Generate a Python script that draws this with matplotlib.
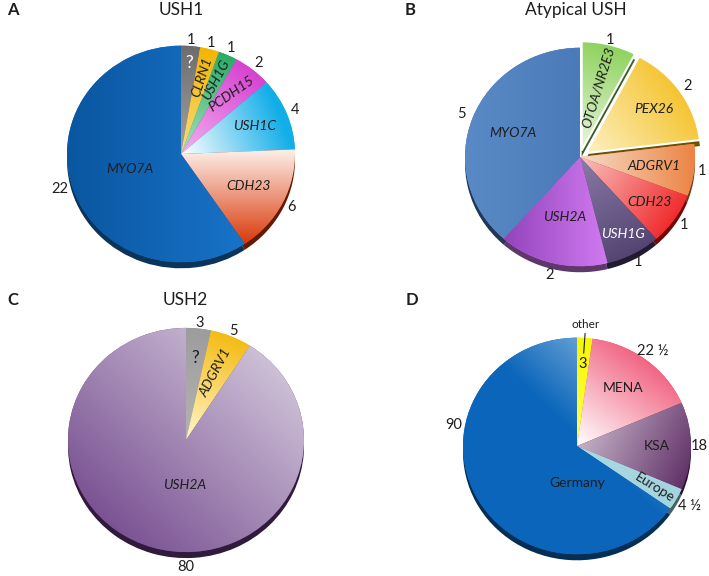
import numpy as np
import matplotlib.pyplot as plt
from matplotlib.colors import to_rgb
from matplotlib.patches import Wedge

plt.rcParams['font.family'] = ['Lato', 'DejaVu Sans']

W, H = 709, 576
SY = 0.95  # slight vertical squash, like the tilted 3D pies

# A - USH1
a_names = ['?', 'CLRN1', 'USH1G', 'PCDH15', 'USH1C', 'CDH23', 'MYO7A']
a_values = [1, 1, 1, 2, 4, 6, 22]
a_labels = ['1', '1', '1', '2', '4', '6', '22']

# B - atypical USH
b_names = ['OTOA/NR2E3', 'PEX26', 'ADGRV1', 'CDH23', 'USH1G', 'USH2A', 'MYO7A']
b_values = [1, 2, 1, 1, 1, 2, 5]
b_labels = ['1', '2', '1', '1', '1', '2', '5']

# C - USH2
c_names = ['?', 'ADGRV1', 'USH2A']
c_values = [3, 5, 80]
c_labels = ['3', '5', '80']

# D - origin
d_names = ['other', 'MENA', 'KSA', 'Europe', 'Germany']
d_values = [3, 22.5, 18, 4.5, 90]
d_labels = ['3', '22 ½', '18', '4 ½', '90']

DARK = '#1e1e1e'

panels = [
    dict(letter='A', title='USH1', letter_xy=(7, 10), title_xy=(181, 10),
         center=(181, 154), r=114, names=a_names, values=a_values, labels=a_labels,
         c0=['#a3a3a3', '#f9dc80', '#a6e3bd', '#f2b0f0', '#ffffff', '#fdf0ea', '#0a56a0'],
         c1=['#6c6c6c', '#f2b400', '#22a862', '#d232cc', '#12aee8', '#d93a0a', '#1873c8'],
         ang=[None, None, None, None, None, -90, 0],
         spread=[1, 1, 1, 1, 0.8, 1, 1],
         explode=[0] * 7,
         name_r=[0.84, 0.73, 0.75, 0.71, 0.70, 0.66, 0.47],
         name_rot=[0, 72, 62, 35, 0, 0, 0],
         name_ang=[None] * 7,
         name_col=['white'] + [DARK] * 6,
         val_r=[1.06, 1.06, 1.07, 1.08, 1.08, 1.09, 1.11],
         val_ang=[None] * 7, italic=True),
    dict(letter='B', title='Atypical USH', letter_xy=(405, 10), title_xy=(576, 10),
         center=(580, 157), r=115, names=b_names, values=b_values, labels=b_labels,
         c0=['#eaf6e0', '#fdf1c4', '#f6dcc8', '#f9c0c0', '#8a7ca6', '#9444bc', '#5a8ac6'],
         c1=['#86cf52', '#f2b500', '#ec8444', '#ee1010', '#4a3b6a', '#d07af0', '#4a7bb8'],
         ang=[None, None, 0, None, None, 0, 0],
         spread=[1] * 7,
         explode=[7, 7, 0, 0, 0, 0, 0],
         name_r=[0.60, 0.72, 0.65, 0.73, 0.80, 0.57, 0.62],
         name_rot=[73, 0, 0, 0, 0, 0, 0],
         name_ang=[None] * 7,
         name_col=[DARK] * 4 + ['white'] + [DARK] * 2,
         val_r=[1.04, 1.08, 1.07, 1.10, 1.09, 1.11, 1.10],
         val_ang=[None] * 7, italic=True),
    dict(letter='C', title='USH2', letter_xy=(7, 300), title_xy=(185, 300),
         center=(186, 440), r=118, names=c_names, values=c_values, labels=c_labels,
         c0=['#b4b4b4', '#fff6cc', '#ded6e4'],
         c1=['#9c9c9c', '#f3b500', '#6a3d86'],
         ang=[None, None, 225],
         spread=[1, 1, 1],
         explode=[0, 0, 0],
         name_r=[0.74, 0.65, 0.40],
         name_rot=[0, 62, 0],
         name_ang=[None, None, -92],
         name_col=[DARK] * 3,
         val_r=[1.05, 1.05, 1.13],
         val_ang=[None, None, -90], italic=True),
    dict(letter='D', title='', letter_xy=(406, 300), title_xy=(578, 300),
         center=(577, 446), r=114, names=d_names, values=d_values, labels=d_labels,
         c0=['#ffff50', '#ffffff', '#d6c6d6', '#aad8e2', '#b0d0ea'],
         c1=['#f7f700', '#ee4468', '#5a2a62', '#a4d4de', '#0b66bb'],
         ang=[None, None, -25, None, 225],
         spread=[1, 0.9, 1, 1, 0.45],
         explode=[0] * 5,
         name_r=[1.12, 0.67, 0.70, 0.78, 0.34],
         name_rot=[0, 0, 0, -32, 0],
         name_ang=[None, None, None, None, -90],
         name_col=[DARK] * 5,
         val_r=[0.76, 1.10, 1.07, 1.13, 1.10],
         val_ang=[None, None, None, None, 170], italic=False),
]


def grad_fill(ax, w, c0, c1, ang, spread):
    (x0, y0), (x1, y1) = w.get_path().get_extents().get_points()
    xs = np.linspace(x0, x1, 80)
    ys = np.linspace(y0, y1, 80)
    X, Y = np.meshgrid(xs, ys)
    a = np.deg2rad(ang)
    p = X * np.cos(a) + Y * np.sin(a)
    t = (p - p.min()) / (p.max() - p.min())
    t = np.clip(t / spread, 0, 1)[..., None]
    img = np.array(to_rgb(c0)) * (1 - t) + np.array(to_rgb(c1)) * t
    im = ax.imshow(img, extent=(x0, x1, y0, y1), origin='lower',
                   interpolation='bilinear', zorder=3, aspect='auto')
    im.set_clip_path(w)


def to_data(x, y):
    return x, (H - y) / SY


fig = plt.figure(figsize=(7.09, 5.76), dpi=100)
ax = fig.add_axes([0, 0, 1, 1])

for p in panels:
    cx, cy = to_data(*p['center'])
    r = p['r']
    shade = [tuple(np.array(to_rgb(c)) * 0.45) for c in p['c1']]
    ax.pie(p['values'], center=(cx, cy - 6 / SY), radius=r, startangle=90,
           counterclock=False, colors=shade, explode=p['explode'],
           frame=True, wedgeprops=dict(zorder=1, linewidth=0))
    wedges, _ = ax.pie(p['values'], center=(cx, cy), radius=r, startangle=90,
                       counterclock=False, colors=p['c1'], explode=p['explode'],
                       frame=True, wedgeprops=dict(zorder=2, linewidth=0))
    style = 'italic' if p['italic'] else 'normal'
    for i, w in enumerate(wedges):
        mid = 0.5 * (w.theta1 + w.theta2)
        g = p['ang'][i] if p['ang'][i] is not None else mid
        grad_fill(ax, w, p['c0'][i], p['c1'][i], g, p['spread'][i])
        if p['explode'][i]:
            ax.add_patch(Wedge(w.center, r, w.theta1, w.theta2, facecolor='none',
                               edgecolor='white', linewidth=1.5, zorder=4))
        wx, wy = w.center
        na = np.deg2rad(p['name_ang'][i] if p['name_ang'][i] is not None else mid)
        nr = p['name_r'][i] * r
        nx, ny = wx + nr * np.cos(na), wy + nr * np.sin(na)
        name = p['names'][i]
        fs = 8.5 if name == 'other' else (12.5 if name == '?' else 10)
        ax.text(nx, ny, name, ha='center', va='center',
                rotation=p['name_rot'][i], fontsize=fs, color=p['name_col'][i],
                style='normal' if name == '?' else style, zorder=5)
        va = np.deg2rad(p['val_ang'][i] if p['val_ang'][i] is not None else mid)
        vr = p['val_r'][i] * r
        vx, vy = wx + vr * np.cos(va), wy + vr * np.sin(va)
        ax.text(vx, vy, p['labels'][i], ha='center', va='center',
                fontsize=10.5, color=DARK, zorder=5)
        if name == 'other':
            ax.plot([cx + 1.04 * r * np.cos(na), cx + 0.86 * r * np.cos(na)],
                    [cy + 1.04 * r * np.sin(na), cy + 0.86 * r * np.sin(na)],
                    color=DARK, lw=0.8, zorder=5)
    lx, ly = to_data(*p['letter_xy'])
    ax.text(lx, ly, p['letter'], fontsize=12, fontweight='bold',
            va='center', ha='left', color=DARK)
    if p['title']:
        tx, ty = to_data(*p['title_xy'])
        ax.text(tx, ty, p['title'], fontsize=12.5, va='center', ha='center',
                color=DARK)

ax.set_xlim(0, W)
ax.set_ylim(0, H / SY)
ax.set_aspect('auto')
ax.axis('off')
fig.savefig('out.png', dpi=100)
